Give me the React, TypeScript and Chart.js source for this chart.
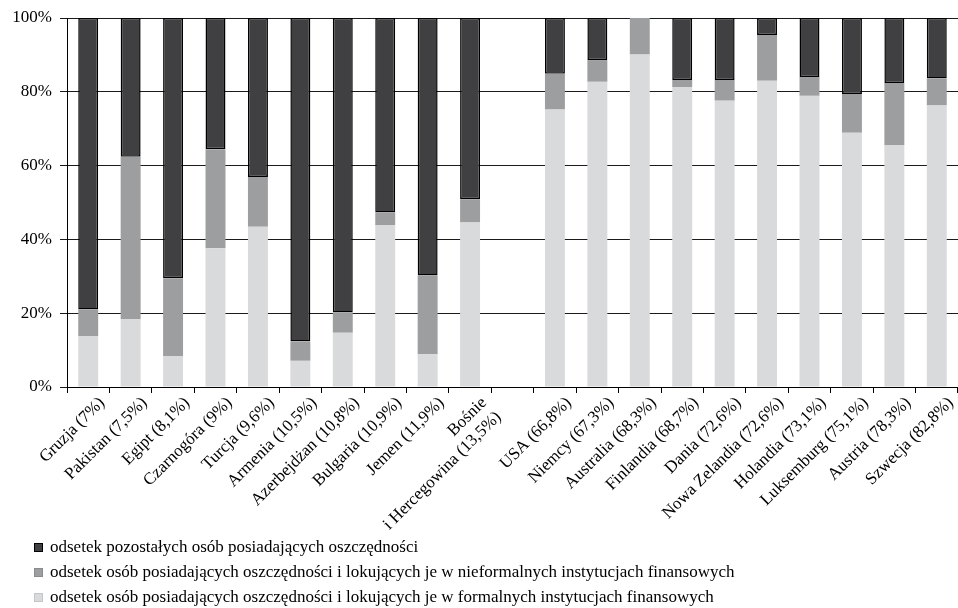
import React, { useEffect, useRef } from "react";
import { Chart, registerables } from "chart.js";

Chart.register(...registerables);

const categories: (string | string[])[] = [
  "Gruzja (7%)",
  "Pakistan (7,5%)",
  "Egipt (8,1%)",
  "Czarnogóra (9%)",
  "Turcja (9,6%)",
  "Armenia (10,5%)",
  "Azerbejdżan (10,8%)",
  "Bulgaria (10,9%)",
  "Jemen (11,9%)",
  ["Bośnie", "i Hercegowina (13,5%)"],
  "",
  "USA (66,8%)",
  "Niemcy (67,3%)",
  "Australia (68,3%)",
  "Finlandia (68,7%)",
  "Dania (72,6%)",
  "Nowa Zelandia (72,6%)",
  "Holandia (73,1%)",
  "Luksemburg (75,1%)",
  "Austria (78,3%)",
  "Szwecja (82,8%)",
];

const formalShare = [13.8, 18.4, 8.4, 37.6, 43.4, 7.1, 14.7, 43.9, 8.9, 44.6, null, 75.2, 82.7, 90.1, 81.3, 77.6, 83.0, 78.9, 68.9, 65.6, 76.3];
const informalShare = [7.2, 44.0, 21.1, 26.8, 13.5, 5.2, 5.5, 3.4, 21.3, 6.3, null, 9.7, 5.9, 9.9, 1.9, 5.6, 12.4, 5.1, 10.5, 16.8, 7.3];
const otherShare = [79.0, 37.6, 70.5, 35.6, 43.1, 87.7, 79.8, 52.7, 69.8, 49.1, null, 15.1, 11.4, null, 16.8, 16.8, 4.6, 16.0, 20.6, 17.6, 16.4];

const yTicks = [0, 20, 40, 60, 80, 100];

const labelOther = "odsetek pozostałych osób posiadających oszczędności";
const labelInformal = "odsetek osób posiadających oszczędności i lokujących je w nieformalnych instytucjach finansowych";
const labelFormal = "odsetek osób posiadających oszczędności i lokujących je w formalnych instytucjach finansowych";

const FONT = "'Liberation Serif', 'Times New Roman', serif";

const legendPlugin = {
  id: "verticalLegend",
  afterDraw(chart: any) {
    const ctx = chart.ctx;
    const items = chart.data.datasets.slice().reverse();
    ctx.save();
    ctx.font = `17px ${FONT}`;
    ctx.textBaseline = "middle";
    ctx.textAlign = "left";
    items.forEach((ds: any, i: number) => {
      const y = 548 + i * 25;
      ctx.fillStyle = ds.backgroundColor;
      ctx.fillRect(34, y - 5, 9, 9);
      ctx.strokeStyle = ds.legendBorder;
      ctx.lineWidth = 1;
      ctx.strokeRect(34.5, y - 4.5, 8, 8);
      ctx.fillStyle = "#000";
      ctx.fillText(ds.label, 50, y);
    });
    ctx.restore();
  },
};

export default function App() {
  const ref = useRef<HTMLCanvasElement | null>(null);
  useEffect(() => {
    document.body.style.margin = "0";
    const canvas = ref.current;
    if (!canvas) return;
    const chart = new Chart(canvas, {
      type: "bar",
      data: {
        labels: categories as any,
        datasets: [
          {
            label: labelFormal,
            data: formalShare as any,
            backgroundColor: "#d9dadc",
            borderWidth: 0,
            legendBorder: "#c4c5c7",
          } as any,
          {
            label: labelInformal,
            data: informalShare as any,
            backgroundColor: "#9d9ea0",
            borderWidth: 0,
            legendBorder: "#8a8b8d",
          } as any,
          {
            label: labelOther,
            data: otherShare as any,
            backgroundColor: "#404042",
            borderColor: "#000",
            borderWidth: 1.5,
            borderSkipped: false,
            legendBorder: "#000",
          } as any,
        ],
      },
      options: {
        responsive: false,
        animation: false,
        devicePixelRatio: 1,
        layout: { padding: { top: 18, left: 0, right: 0, bottom: 0 } },
        datasets: { bar: { barPercentage: 0.47, categoryPercentage: 1 } },
        plugins: {
          legend: { display: false },
          tooltip: { enabled: false },
        },
        scales: {
          x: {
            stacked: true,
            offset: true,
            grid: {
              display: true,
              drawOnChartArea: false,
              drawTicks: true,
              tickLength: 6,
              color: "#000",
              offset: true,
            },
            border: { display: true, color: "#000", width: 1 },
            ticks: {
              autoSkip: false,
              maxRotation: 45,
              minRotation: 45,
              color: "#000",
              padding: 0,
              labelOffset: 14,
              font: { family: FONT, size: 17 },
            },
            afterFit(scale: any) {
              scale.height = 221;
              scale.paddingLeft = 0;
              scale.paddingRight = 0;
            },
          } as any,
          y: {
            stacked: true,
            min: 0,
            max: 100,
            afterBuildTicks(scale: any) {
              scale.ticks = yTicks.map((v) => ({ value: v }));
            },
            grid: {
              color: "#1a1a1a",
              lineWidth: 1,
              drawTicks: true,
              tickLength: 7,
            },
            border: { display: true, color: "#000", width: 1 },
            ticks: {
              color: "#000",
              padding: 8,
              font: { family: FONT, size: 17 },
              callback: (v: any) => `${v}%`,
            },
            afterFit(scale: any) {
              scale.width = 67;
              scale.paddingTop = 0;
              scale.paddingBottom = 0;
            },
          } as any,
        },
      },
      plugins: [legendPlugin],
    });
    return () => chart.destroy();
  }, []);
  return (
    <div style={{ width: 958, height: 608 }}>
      <canvas ref={ref} width={958} height={608} style={{ display: "block" }} />
    </div>
  );
}
